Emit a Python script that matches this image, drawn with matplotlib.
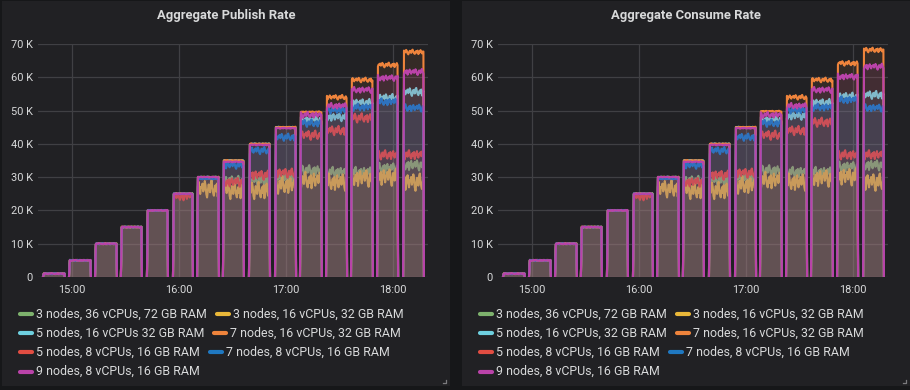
import numpy as np
import matplotlib
matplotlib.use("Agg")
import matplotlib.pyplot as plt
from matplotlib.lines import Line2D
from matplotlib.patches import Rectangle

W, H = 910, 390

# load steps (K msg/s) and when each one ran, minutes after 15:00
targets = [1, 5, 10, 15, 20, 25, 30, 35, 40, 45, 50, 55, 60, 65, 70]
step_start = [-16.1, -1.5, 13.1, 27.6, 42.2, 56.8, 70.3, 84.8, 99.4, 114.0, 128.0, 142.6, 156.6, 171.2, 185.8]
step_end = [-3.8, 10.8, 25.4, 39.4, 54.0, 68.0, 82.6, 96.6, 111.2, 125.8, 140.3, 154.4, 168.9, 183.0, 197.5]

# plateau level reached by each cluster at each step (K msg/s)
pub_green = [1, 5, 10, 15, 20, 25, 30, 28.8, 29, 29.7, 32, 31.5, 31.5, 32.7, 33.6]
pub_yellow = [1, 5, 10, 15, 20, 25, 26.5, 26, 26, 27.6, 29, 28.5, 29.7, 30, 28.5]
pub_lblue = [1, 5, 10, 15, 20, 25, 30, 35, 40, 45, 47.2, 48, 52.3, 53.8, 55.6]
pub_orange = [1, 5, 10, 15, 20, 25, 30, 35, 40, 45, 49.6, 54, 59.2, 63.7, 67.6]
pub_red = [1, 5, 10, 15, 20, 24.3, 29.5, 28.5, 30.6, 31.2, 42.6, 44, 47.8, 36.7, 36.7]
pub_blue = [1, 5, 10, 15, 20, 25, 29.5, 33.6, 38, 42, 46.2, 50.2, 51, 52.6, 50.8]
pub_purple = [1, 5, 10, 15, 20, 25, 30, 34.6, 39.7, 44.7, 48.7, 51.4, 56.2, 59.8, 61.6]

con_green = [1, 5, 10, 15, 20, 25, 30, 28.8, 29, 29.7, 32, 31.5, 31.5, 33.1, 33.6]
con_yellow = [1, 5, 10, 15, 20, 25, 26.5, 26, 26, 27.6, 29, 28.5, 29.7, 30.1, 28.5]
con_lblue = [1, 5, 10, 15, 20, 25, 30, 35, 40, 45, 47.2, 48.4, 52.3, 54.2, 54.7]
con_orange = [1, 5, 10, 15, 20, 25, 30, 35, 40, 45, 49.8, 54, 59.2, 64.2, 68.2]
con_red = [1, 5, 10, 15, 20, 24.3, 29.5, 28.5, 30.6, 31.2, 42.6, 44, 46.5, 36.7, 36.7]
con_blue = [1, 5, 10, 15, 20, 25, 29.5, 33.6, 38, 42, 46.2, 50.2, 51, 53.2, 50.8]
con_purple = [1, 5, 10, 15, 20, 25, 30, 34.6, 39.7, 44.7, 48.7, 51.4, 56.2, 60.2, 63.2]

colors = ["#7EB26D", "#EAB839", "#6ED0E0", "#EF843C", "#E24D42", "#1F78C1", "#BA43A9"]
jitter = [1.6, 2.6, 1.2, 0.7, 1.4, 1.1, 0.9]

pub_labels = ["3 nodes, 36 vCPUs, 72 GB RAM", "3 nodes, 16 vCPUs, 32 GB RAM",
              "5 nodes, 16 vCPUs 32 GB RAM", "7 nodes, 16 vCPUs, 32 GB RAM",
              "5 nodes, 8 vCPUs, 16 GB RAM", "7 nodes, 8 vCPUs, 16 GB RAM",
              "9 nodes, 8 vCPUs, 16 GB RAM"]
con_labels = ["3 nodes, 36 vCPUs, 72 GB RAM", "3 nodes, 16 vCPUs, 32 GB RAM",
              "5 nodes, 16 vCPUs, 32 GB RAM", "7 nodes, 16 vCPUs, 32 GB RAM",
              "5 nodes, 8 vCPUs, 16 GB RAM", "7 nodes, 8 vCPUs, 16 GB RAM",
              "9 nodes, 8 vCPUs, 16 GB RAM"]

# hand-drawn noise shape used along each plateau
wiggle = [0.2, 0.6, -0.3, 0.1, 0.9, 0.4, -0.6, -1.0, -0.2, 0.5, 0.3, -0.4, 0.7, 1.0,
          0.1, -0.5, -0.8, 0.0, 0.4, -0.3, 0.6, -0.9, -0.2, 0.3, 0.8, -0.1, -0.6, 0.2]

BG = "#161719"
PANEL = "#212124"
TEXT = "#d8d9da"
GRID = "#404044"


def fx(px):
    return px / W


def fy(py):
    return 1 - py / H


def build(levels, amp, k):
    xs, ys = [], []
    n = len(wiggle)
    for i, (t0, t1, lev, tgt) in enumerate(zip(step_start, step_end, levels, targets)):
        a = amp if lev < tgt - 0.5 else 0.15
        tx = np.linspace(t0 + 0.5, t1 - 0.3, n)
        w = np.array([wiggle[(j + 5 * k + 3 * i) % n] for j in range(n)])
        ty = np.minimum(lev + a * w, tgt + 0.2)
        xs += [t0] + list(tx) + [t1, t1 + 0.01]
        ys += [0] + list(ty) + [0, np.nan]
    return np.array(xs), np.array(ys)


fig = plt.figure(figsize=(W / 100, H / 100), dpi=100, facecolor=BG)
renderer = fig.canvas.get_renderer()

panels = [
    (2, "Aggregate Publish Rate", [pub_green, pub_yellow, pub_lblue, pub_orange, pub_red, pub_blue, pub_purple], pub_labels),
    (462, "Aggregate Consume Rate", [con_green, con_yellow, con_lblue, con_orange, con_red, con_blue, con_purple], con_labels),
]

for x0, title, series, labels in panels:
    fig.patches.append(Rectangle((fx(x0), fy(386)), fx(448), 385 / H, transform=fig.transFigure,
                                 facecolor=PANEL, edgecolor="none", zorder=-10))
    fig.text(fx(x0 + 224), fy(16), title, color=TEXT, fontsize=9.4, fontweight="bold",
             family="Roboto", ha="center", va="center")

    ax = fig.add_axes([fx(x0 + 36.3), fy(277), fx(389.4), 233 / H])
    ax.set_facecolor("none")
    # each series paints its fill then its line, so later fills tint earlier lines
    for k, (lev, c) in enumerate(zip(series, colors)):
        x, y = build(lev, jitter[k], k)
        ax.fill_between(x, 0, y, color=c, alpha=0.1, lw=0, zorder=3 + 2 * k)
        ax.plot(x, y, color=c, lw=1.5, zorder=4 + 2 * k)

    ax.set_xlim(-18.7, 199.6)
    ax.set_ylim(0, 70)
    ax.set_yticks(range(0, 71, 10))
    ax.set_yticklabels(["0"] + [f"{v} K" for v in range(10, 71, 10)])
    ax.set_xticks([0, 60, 120, 180])
    ax.set_xticklabels(["15:00", "16:00", "17:00", "18:00"])
    ax.grid(color=GRID, lw=0.9, zorder=0)
    ax.set_axisbelow(True)
    for s in ax.spines.values():
        s.set_visible(False)
    ax.tick_params(length=0, colors=TEXT, labelsize=7.9, pad=4)
    ax.tick_params(axis="x", pad=6)
    for lab in ax.get_xticklabels() + ax.get_yticklabels():
        lab.set_family("Roboto")

    # legend, flowing two per row like the dashboard does
    rows = [[0, 1], [2, 3], [4, 5], [6]]
    row_y = [314.3, 333.3, 352.3, 371.7]
    for r, items in zip(row_y, rows):
        px = x0 + 18
        for idx in items:
            fig.add_artist(Line2D([fx(px), fx(px + 12)], [fy(r), fy(r)], transform=fig.transFigure,
                                  color=colors[idx], lw=3, solid_capstyle="round"))
            t = fig.text(fx(px + 16), fy(r), labels[idx], color=TEXT, fontsize=8.9,
                         family="Roboto", ha="left", va="center")
            bb = t.get_window_extent(renderer)
            px = bb.x1 + 10

    # resize handle in the panel corner
    fig.add_artist(Line2D([fx(x0 + 441), fx(x0 + 444), fx(x0 + 444)], [fy(383), fy(383), fy(380)],
                          transform=fig.transFigure, color="#7b7b7e", lw=0.9))

fig.savefig("out.png", dpi=100, facecolor=BG)
